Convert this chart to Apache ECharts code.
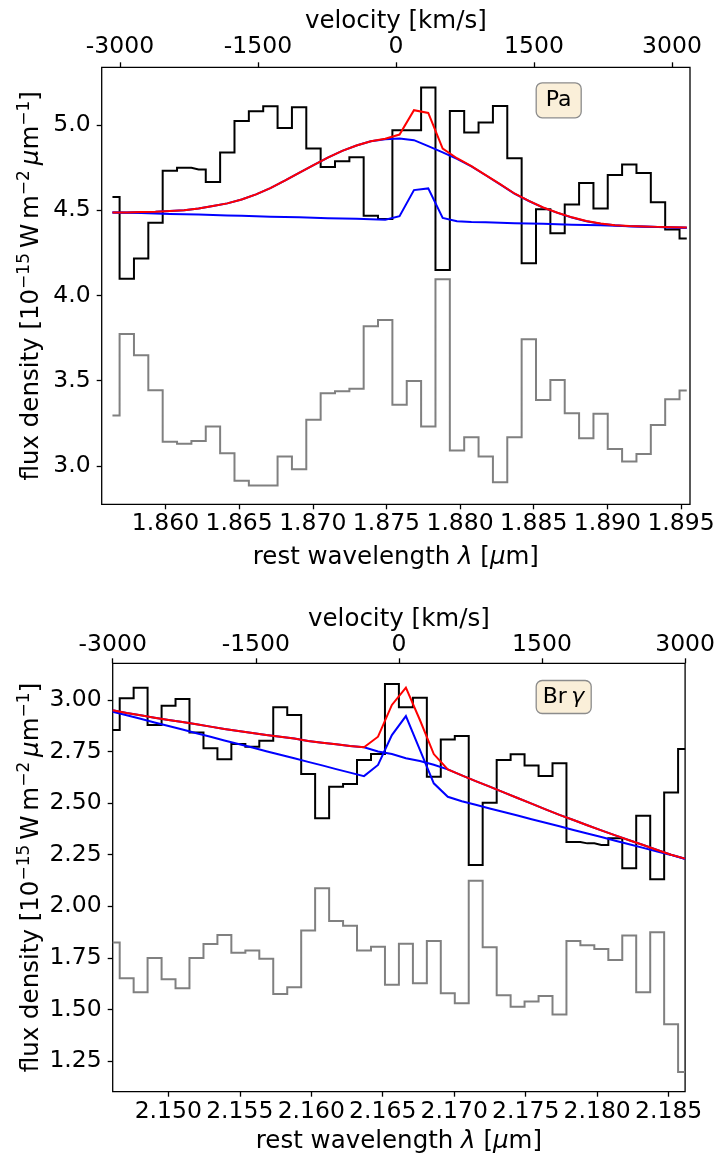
<!DOCTYPE html>
<html><head><meta charset="utf-8">
<script src="https://cdn.jsdelivr.net/npm/echarts@6/dist/echarts.min.js"></script>
<style>html,body{margin:0;padding:0;background:#fff}#c{width:718px;height:1160px}</style>
</head><body><div id="c"></div>
<script>
// ---------- Pa alpha panel ----------
const paWave = [1.85640,1.85737,1.85835,1.85932,1.86030,1.86127,1.86225,1.86322,1.86420,1.86517,1.86615,1.86712,1.86810,1.86907,1.87005,1.87102,1.87200,1.87297,1.87394,1.87492,1.87589,1.87687,1.87784,1.87882,1.87979,1.88077,1.88174,1.88272,1.88369,1.88467,1.88564,1.88662,1.88759,1.88857,1.88954,1.89051,1.89149,1.89246,1.89344,1.89441,1.89539];
const paFlux = [4.579,4.099,4.218,4.427,4.732,4.750,4.740,4.666,4.840,5.025,5.082,5.111,4.984,5.106,4.863,4.754,4.789,4.812,4.468,4.449,4.971,4.971,5.221,4.150,5.084,4.957,5.016,5.113,4.806,4.189,4.507,4.365,4.535,4.660,4.511,4.707,4.769,4.720,4.547,4.388,4.335];
const paResid = [3.295,3.774,3.649,3.444,3.141,3.129,3.145,3.231,3.074,2.912,2.885,2.885,3.055,2.980,3.270,3.426,3.438,3.453,3.819,3.856,3.358,3.498,3.231,4.095,3.090,3.168,3.055,2.904,3.168,3.743,3.387,3.504,3.309,3.162,3.305,3.098,3.025,3.070,3.240,3.391,3.442];
const paTotal = [4.488,4.488,4.490,4.492,4.496,4.501,4.511,4.525,4.541,4.564,4.594,4.630,4.674,4.720,4.765,4.810,4.849,4.881,4.906,4.920,4.945,5.088,5.072,4.863,4.806,4.760,4.707,4.654,4.599,4.556,4.517,4.486,4.459,4.437,4.423,4.413,4.408,4.405,4.403,4.401,4.399];
const paBroad = [4.488,4.488,4.490,4.492,4.496,4.501,4.511,4.525,4.541,4.564,4.594,4.630,4.674,4.720,4.765,4.810,4.849,4.881,4.906,4.918,4.922,4.912,4.877,4.840,4.802,4.758,4.706,4.653,4.598,4.555,4.516,4.485,4.458,4.436,4.422,4.412,4.407,4.404,4.402,4.400,4.398];
const paNarrow = [4.488,4.486,4.484,4.481,4.479,4.477,4.475,4.472,4.470,4.468,4.466,4.463,4.461,4.459,4.457,4.454,4.452,4.450,4.448,4.445,4.466,4.619,4.629,4.456,4.436,4.432,4.430,4.427,4.425,4.423,4.421,4.418,4.416,4.414,4.412,4.409,4.407,4.405,4.403,4.400,4.398];
const paWaveTicks = [1.860,1.865,1.870,1.875,1.880,1.885,1.890,1.895];
const paVelTicks = [-3000,-1500,0,1500,3000];
const paYTicks = [3.0,3.5,4.0,4.5,5.0];
const paWaveRange = [1.85567, 1.89561];
const paVelRange = [-3199, 3196];
const paYRange = [2.774, 5.340];

// ---------- Br gamma panel ----------
const brWave = [2.14611,2.14709,2.14806,2.14904,2.15002,2.15099,2.15197,2.15295,2.15392,2.15490,2.15588,2.15685,2.15783,2.15881,2.15978,2.16076,2.16174,2.16271,2.16369,2.16467,2.16564,2.16662,2.16760,2.16857,2.16955,2.17053,2.17150,2.17248,2.17346,2.17443,2.17541,2.17639,2.17736,2.17834,2.17931,2.18029,2.18127,2.18224,2.18322,2.18420,2.18517,2.18615];
const brFlux = [2.855,3.008,3.060,2.879,2.972,3.005,2.843,2.766,2.713,2.787,2.774,2.803,2.965,2.927,2.641,2.427,2.580,2.593,2.709,2.738,3.078,2.965,3.011,2.628,2.809,2.826,2.200,2.502,2.709,2.737,2.682,2.632,2.693,2.312,2.305,2.297,2.330,2.184,2.439,2.131,2.551,2.762];
const brResid = [1.824,1.651,1.583,1.749,1.646,1.602,1.749,1.817,1.861,1.775,1.785,1.745,1.575,1.607,1.882,2.087,1.929,1.905,1.785,1.804,1.619,1.818,1.627,1.832,1.578,1.530,2.124,1.801,1.569,1.513,1.538,1.565,1.475,1.832,1.811,1.793,1.740,1.858,1.583,1.874,1.428,1.196];
const brTotal = [2.950,2.937,2.926,2.914,2.903,2.893,2.882,2.871,2.859,2.850,2.840,2.830,2.822,2.813,2.801,2.793,2.785,2.777,2.771,2.822,2.976,3.060,2.903,2.738,2.664,2.635,2.607,2.580,2.552,2.525,2.498,2.470,2.443,2.418,2.393,2.368,2.344,2.320,2.297,2.273,2.250,2.231];
const brBroad = [2.950,2.937,2.926,2.914,2.903,2.893,2.882,2.871,2.859,2.850,2.840,2.830,2.822,2.813,2.801,2.793,2.785,2.777,2.771,2.750,2.738,2.718,2.704,2.686,2.664,2.635,2.607,2.580,2.552,2.525,2.498,2.470,2.443,2.418,2.393,2.368,2.344,2.320,2.297,2.273,2.250,2.230];
const brNarrow = [2.943,2.926,2.909,2.891,2.874,2.857,2.839,2.822,2.804,2.787,2.770,2.752,2.735,2.718,2.700,2.683,2.665,2.648,2.631,2.685,2.830,2.922,2.758,2.596,2.531,2.509,2.492,2.474,2.457,2.440,2.422,2.405,2.388,2.370,2.353,2.336,2.318,2.301,2.283,2.266,2.249,2.229];
const brWaveTicks = [2.150,2.155,2.160,2.165,2.170,2.175,2.180,2.185];
const brYTicks = [1.25,1.50,1.75,2.00,2.25,2.50,2.75,3.00];
const brWaveRange = [2.14611, 2.18615];
const brVelRange = [-3000, 3000];
const brYRange = [1.101, 3.178];

const FONT = 'DejaVu Sans';
const TICK_FS = 23.5, NAME_FS = 24.5;

function pts(xs, ys){ return xs.map((x,i)=>[x, ys[i]]); }

const tickStyle = {show:true, inside:false, length:5, lineStyle:{color:'#000', width:1.3}};
function labelStyle(vals, dec, margin){
  return {show:true, customValues: vals, margin:margin, fontSize:TICK_FS, fontFamily:FONT, color:'#000',
          formatter: v => Number(v).toFixed(dec)};
}
const nameRich = {
  i:{fontStyle:'italic', fontSize:NAME_FS, fontFamily:FONT, color:'#000'},
  sup:{fontSize:17, fontFamily:FONT, color:'#000', verticalAlign:'top', lineHeight:17}
};
const xName = 'rest wavelength {i|λ} [{i|μ}m]';
const yName = 'flux density [10{sup|−15}\u2009W\u2009m{sup|−2}\u2009{i|μ}m{sup|−1}]';
const noLine = {show:false, onZero:false};

function xWave(grid, range, ticks, gap){
  return {type:'value', gridIndex:grid, position:'bottom', min:range[0], max:range[1],
    axisLine:noLine, splitLine:{show:false},
    axisTick:Object.assign({customValues:ticks}, tickStyle),
    axisLabel:labelStyle(ticks,3,8),
    name:xName, nameLocation:'middle', nameGap:gap,
    nameTextStyle:{fontSize:NAME_FS, fontFamily:FONT, color:'#000', rich:nameRich}};
}
function xVel(grid, range, ticks, gap, margin){
  return {type:'value', gridIndex:grid, position:'top', min:range[0], max:range[1],
    axisLine:noLine, splitLine:{show:false},
    axisTick:Object.assign({customValues:ticks}, tickStyle),
    axisLabel:labelStyle(ticks,0,margin),
    name:'velocity [km/s]', nameLocation:'middle', nameGap:gap,
    nameTextStyle:{fontSize:NAME_FS, fontFamily:FONT, color:'#000'}};
}
function yAx(grid, range, ticks, dec, gap){
  return {type:'value', gridIndex:grid, position:'left', min:range[0], max:range[1],
    axisLine:noLine, splitLine:{show:false},
    axisTick:Object.assign({customValues:ticks}, tickStyle),
    axisLabel:labelStyle(ticks,dec,11),
    name:yName, nameLocation:'middle', nameRotate:90, nameGap:gap, nameMoveOverlap:false,
    nameTextStyle:{fontSize:NAME_FS, fontFamily:FONT, color:'#000', lineHeight:32, rich:nameRich}};
}
function line(xi, yi, xs, ys, color, step){
  return {type:'line', xAxisIndex:xi, yAxisIndex:yi, data:pts(xs,ys), step:step||false,
    showSymbol:false, symbol:'none', silent:true, animation:false,
    lineStyle:{color:color, width:2, join:'miter'}};
}

const boxStyle = {backgroundColor:'#faefd9', borderColor:'#8c8c8c', borderWidth:1.3, borderRadius:6};

const option = {
  backgroundColor:'#fff',
  animation:false,
  grid:[
    {left:101.7, top:67.3, width:588.3, height:437, show:true, borderColor:'#000', borderWidth:1.3, backgroundColor:'transparent'},
    {left:112.7, top:663.3, width:573, height:428.4, show:true, borderColor:'#000', borderWidth:1.3, backgroundColor:'transparent'}
  ],
  xAxis:[
    xWave(0, paWaveRange, paWaveTicks, 41),
    xVel(0, paVelRange, paVelTicks, 33, 8),
    xWave(1, brWaveRange, brWaveTicks, 37),
    Object.assign(xVel(1, brVelRange, paVelTicks, 28, 6), {interval:1500})
  ],
  yAxis:[
    yAx(0, paYRange, paYTicks, 1, 54),
    yAx(1, brYRange, brYTicks, 2, 65)
  ],
  title:[
    Object.assign({text:'Pa', left:535.7, top:82.3, padding:[7,10],
      textStyle:{fontSize:22, fontWeight:'normal', fontFamily:FONT, color:'#000', lineHeight:22}}, boxStyle),
    Object.assign({text:'Br\u2009{i|γ}', left:535.7, top:680, padding:[6,7],
      textStyle:{fontSize:22, fontWeight:'normal', fontFamily:FONT, color:'#000', lineHeight:22,
        rich:{i:{fontStyle:'italic', fontSize:22, fontFamily:FONT, color:'#000', lineHeight:22}}}}, boxStyle)
  ],
  series:[
    line(0,0,paWave,paResid,'#808080','middle'),
    line(0,0,paWave,paFlux,'#000000','middle'),
    line(0,0,paWave,paBroad,'#0000ff'),
    line(0,0,paWave,paNarrow,'#0000ff'),
    line(0,0,paWave,paTotal,'#ff0000'),
    line(2,1,brWave,brResid,'#808080','middle'),
    line(2,1,brWave,brFlux,'#000000','middle'),
    line(2,1,brWave,brBroad,'#0000ff'),
    line(2,1,brWave,brNarrow,'#0000ff'),
    line(2,1,brWave,brTotal,'#ff0000')
  ]
};
const chart = echarts.init(document.getElementById('c'), null, {renderer:'canvas'});
chart.setOption(option);
</script>
</body></html>
